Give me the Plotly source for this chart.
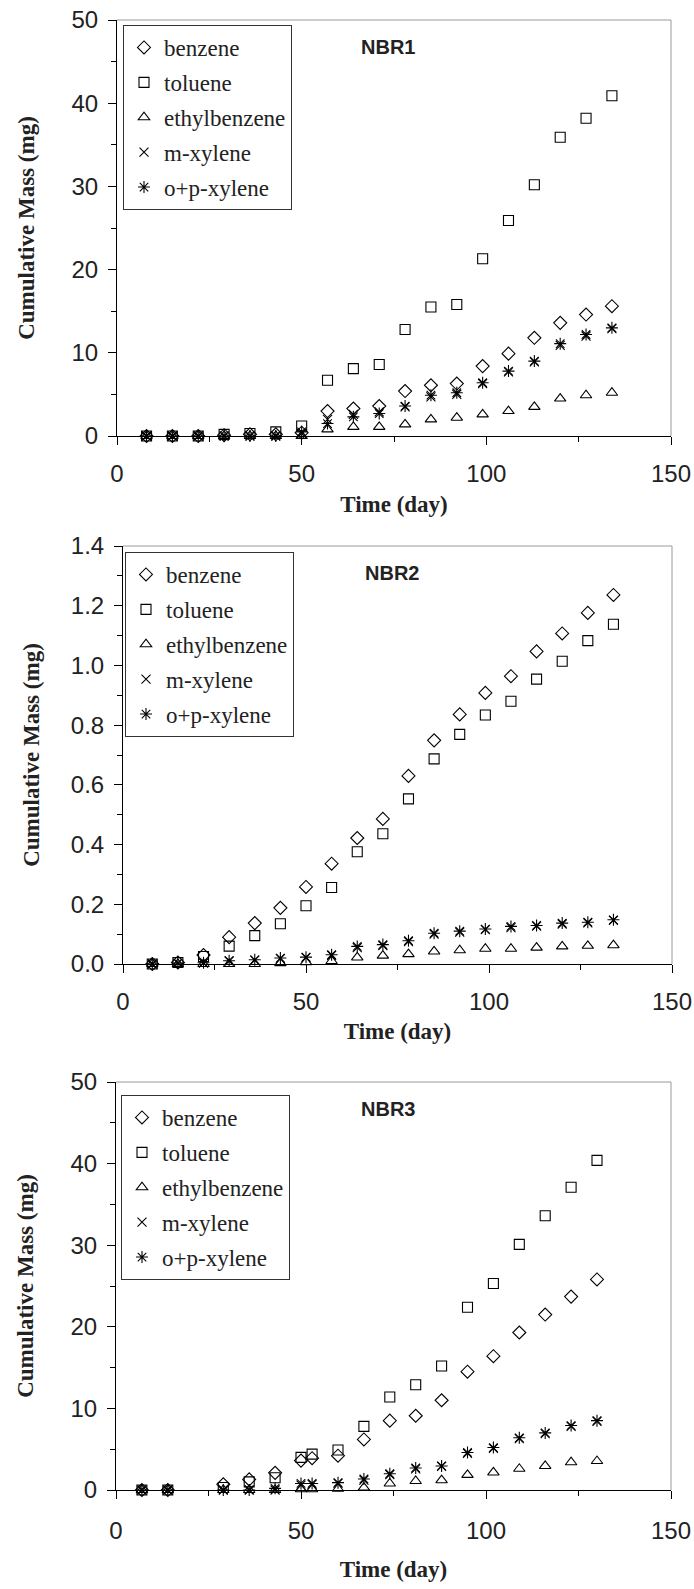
import plotly.graph_objects as go

# ---------------- data ----------------
days_12 = [8, 15, 22, 29, 36, 43, 50, 57, 64, 71, 78, 85, 92, 99, 106, 113, 120, 127, 134]
days_3 = [7, 14, 29, 36, 43, 50, 53, 60, 67, 74, 81, 88, 95, 102, 109, 116, 123, 130]

series_names = ["benzene", "toluene", "ethylbenzene", "m-xylene", "o+p-xylene"]

nbr1_benzene = [0, 0, 0, 0.1, 0.2, 0.2, 0.4, 3.0, 3.3, 3.6, 5.4, 6.1, 6.3, 8.4, 9.9, 11.8, 13.6, 14.6, 15.6]
nbr1_toluene = [0, 0, 0, 0.2, 0.3, 0.5, 1.2, 6.7, 8.1, 8.6, 12.8, 15.5, 15.8, 21.3, 25.9, 30.2, 35.9, 38.2, 40.9]
nbr1_ethylbenzene = [0, 0, 0, 0, 0, 0, 0, 0.8, 1.1, 1.1, 1.4, 2.0, 2.2, 2.6, 3.0, 3.5, 4.5, 4.9, 5.2]
nbr1_mxylene = [0, 0, 0, 0, 0, 0, 0.3, 2.0, 2.6, 2.9, 3.5, 4.7, 5.0, 6.3, 7.7, 8.9, 10.9, 12.0, 12.9]
nbr1_opxylene = [0, 0, 0, 0, 0, 0, 0.5, 1.5, 2.3, 2.7, 3.6, 4.9, 5.2, 6.4, 7.8, 9.0, 11.1, 12.2, 13.0]

nbr2_benzene = [0, 0.005, 0.03, 0.09, 0.137, 0.188, 0.258, 0.336, 0.422, 0.486, 0.63, 0.749, 0.836, 0.908, 0.964, 1.047, 1.107, 1.176, 1.236]
nbr2_toluene = [0, 0.005, 0.025, 0.06, 0.095, 0.135, 0.195, 0.256, 0.376, 0.436, 0.553, 0.687, 0.769, 0.834, 0.88, 0.954, 1.014, 1.083, 1.138]
nbr2_ethylbenzene = [0, 0, 0, 0, 0, 0.003, 0.006, 0.01, 0.022, 0.028, 0.033, 0.042, 0.046, 0.051, 0.051, 0.055, 0.059, 0.061, 0.063]
nbr2_mxylene = [0, 0.003, 0.003, 0.010, 0.013, 0.018, 0.021, 0.029, 0.055, 0.062, 0.075, 0.100, 0.107, 0.115, 0.122, 0.127, 0.134, 0.138, 0.146]
nbr2_opxylene = [0, 0.003, 0.004, 0.011, 0.014, 0.020, 0.023, 0.031, 0.059, 0.065, 0.078, 0.103, 0.110, 0.117, 0.126, 0.129, 0.137, 0.140, 0.148]

nbr3_benzene = [0, 0, 0.7, 1.3, 2.1, 3.6, 3.9, 4.2, 6.2, 8.5, 9.1, 11.0, 14.5, 16.4, 19.3, 21.5, 23.7, 25.8]
nbr3_toluene = [0, 0, 0.3, 1.0, 1.5, 4.0, 4.4, 4.9, 7.8, 11.4, 12.9, 15.2, 22.4, 25.3, 30.1, 33.6, 37.1, 40.4]
nbr3_ethylbenzene = [0, 0, 0, 0, 0, 0.1, 0.1, 0.15, 0.3, 0.8, 1.1, 1.2, 1.85, 2.15, 2.6, 2.95, 3.4, 3.55]
nbr3_mxylene = [0, 0, 0, 0, 0, 0.6, 0.7, 0.8, 1.2, 1.9, 2.6, 2.9, 4.5, 5.1, 6.3, 6.9, 7.8, 8.4]
nbr3_opxylene = [0, 0, 0, 0, 0.2, 0.8, 0.8, 0.9, 1.35, 2.0, 2.7, 2.95, 4.6, 5.2, 6.4, 7.0, 7.9, 8.5]

panel_titles = ["NBR1", "NBR2", "NBR3"]
x_tick_vals = [0, 50, 100, 150]

# ---------------- styling ----------------
symbols = ["diamond-open", "square-open", "triangle-up-open", "x-thin", "asterisk"]
sizes = [10, 10, 10, 9, 10]

panels = [
    (days_12, [nbr1_benzene, nbr1_toluene, nbr1_ethylbenzene, nbr1_mxylene, nbr1_opxylene]),
    (days_12, [nbr2_benzene, nbr2_toluene, nbr2_ethylbenzene, nbr2_mxylene, nbr2_opxylene]),
    (days_3, [nbr3_benzene, nbr3_toluene, nbr3_ethylbenzene, nbr3_mxylene, nbr3_opxylene]),
]

W, H = 694, 1589
# pixel boxes of plot areas: (left, right, top, bottom)
boxes = [(117, 671, 20, 436), (123, 672, 546, 964), (116, 671, 1082, 1490)]
legend_pos = [(123, 25), (125, 552), (121, 1095)]
ytitle_standoff = [30, 24, 30]
xlabel_standoff = [8, 8, 11]
xtitle_standoff = [10, 9, 18]

fig = go.Figure()

for p, (days, vals) in enumerate(panels):
    sfx = "" if p == 0 else str(p + 1)
    leg = "legend" + sfx
    for i, name in enumerate(series_names):
        fig.add_trace(go.Scatter(
            x=days, y=vals[i], mode="markers", name=name,
            xaxis="x" + sfx, yaxis="y" + sfx, legend=leg,
            legendgroup=f"p{p}_{i}", cliponaxis=False,
            marker=dict(symbol=symbols[i], size=sizes[i], color="black",
                        line=dict(color="black", width=1.1)),
        ))

tick_font = dict(family="Liberation Sans, Arial", size=24, color="#222")
serif = "Liberation Serif, Times New Roman"

layout = dict(
    width=W, height=H, margin=dict(l=0, r=0, t=0, b=0, autoexpand=False),
    paper_bgcolor="white", plot_bgcolor="white", showlegend=True,
)

yranges = [[0, 50], [0, 1.4], [0, 50]]
ydticks = [10, 0.2, 10]
yminor = [5, 0.1, 5]
yfmt = ["d", ".1f", "d"]

shapes = []
annotations = []
for p in range(3):
    l, r, t, b = boxes[p]
    sfx = "" if p == 0 else str(p + 1)
    xa = "xaxis" + sfx
    ya = "yaxis" + sfx
    layout[xa] = dict(
        domain=[l / W, r / W], range=[0, 150], anchor="y" + sfx, automargin=False,
        tickvals=x_tick_vals, ticks="outside", ticklen=8, tickcolor="black",
        ticklabelstandoff=xlabel_standoff[p], ticklabeloverflow="allow",
        minor=dict(dtick=25, ticks="outside", ticklen=5, tickcolor="black"),
        showline=True, linecolor="black", linewidth=1, showgrid=False, zeroline=False,
        tickfont=tick_font,
        title=dict(text="<b>Time (day)</b>", font=dict(family=serif, size=23, color="#222"),
                   standoff=xtitle_standoff[p]),
    )
    layout[ya] = dict(
        domain=[1 - b / H, 1 - t / H], range=yranges[p], anchor="x" + sfx, automargin=False,
        dtick=ydticks[p], tick0=0, tickformat=yfmt[p],
        ticks="outside", ticklen=8, tickcolor="black", ticklabelstandoff=5,
        ticklabeloverflow="allow",
        minor=dict(dtick=yminor[p], ticks="outside", ticklen=5, tickcolor="black"),
        showline=True, linecolor="black", linewidth=1, showgrid=False, zeroline=False,
        tickfont=tick_font,
        title=dict(text="<b>Cumulative Mass (mg)</b>", font=dict(family=serif, size=23, color="#222"),
                   standoff=ytitle_standoff[p]),
    )
    lx, ly = legend_pos[p]
    layout["legend" + sfx] = dict(
        x=lx / W, y=1 - ly / H, xanchor="left", yanchor="top",
        xref="paper", yref="paper",
        bordercolor="#333", borderwidth=1, bgcolor="white",
        font=dict(family=serif, size=23, color="#222"),
        traceorder="grouped", tracegroupgap=2,
    )
    # gray top and right frame
    shapes.append(dict(type="line", xref=f"x{sfx} domain", yref=f"y{sfx} domain",
                       x0=0, x1=1, y0=1, y1=1, line=dict(color="#9a9a9a", width=1)))
    shapes.append(dict(type="line", xref=f"x{sfx} domain", yref=f"y{sfx} domain",
                       x0=1, x1=1, y0=0, y1=1, line=dict(color="#9a9a9a", width=1)))
    annotations.append(dict(text=f"<b>{panel_titles[p]}</b>", xref=f"x{sfx} domain", yref=f"y{sfx} domain",
                            x=0.49, y=0.935, showarrow=False, xanchor="center", yanchor="middle",
                            font=dict(family="Liberation Sans, Arial", size=20, color="#222")))

layout["shapes"] = shapes
layout["annotations"] = annotations
fig.update_layout(**layout)

fig.write_html("out.html", config={"displayModeBar": False},
               post_script="document.body.style.margin='0px';document.body.style.overflow='hidden';")
